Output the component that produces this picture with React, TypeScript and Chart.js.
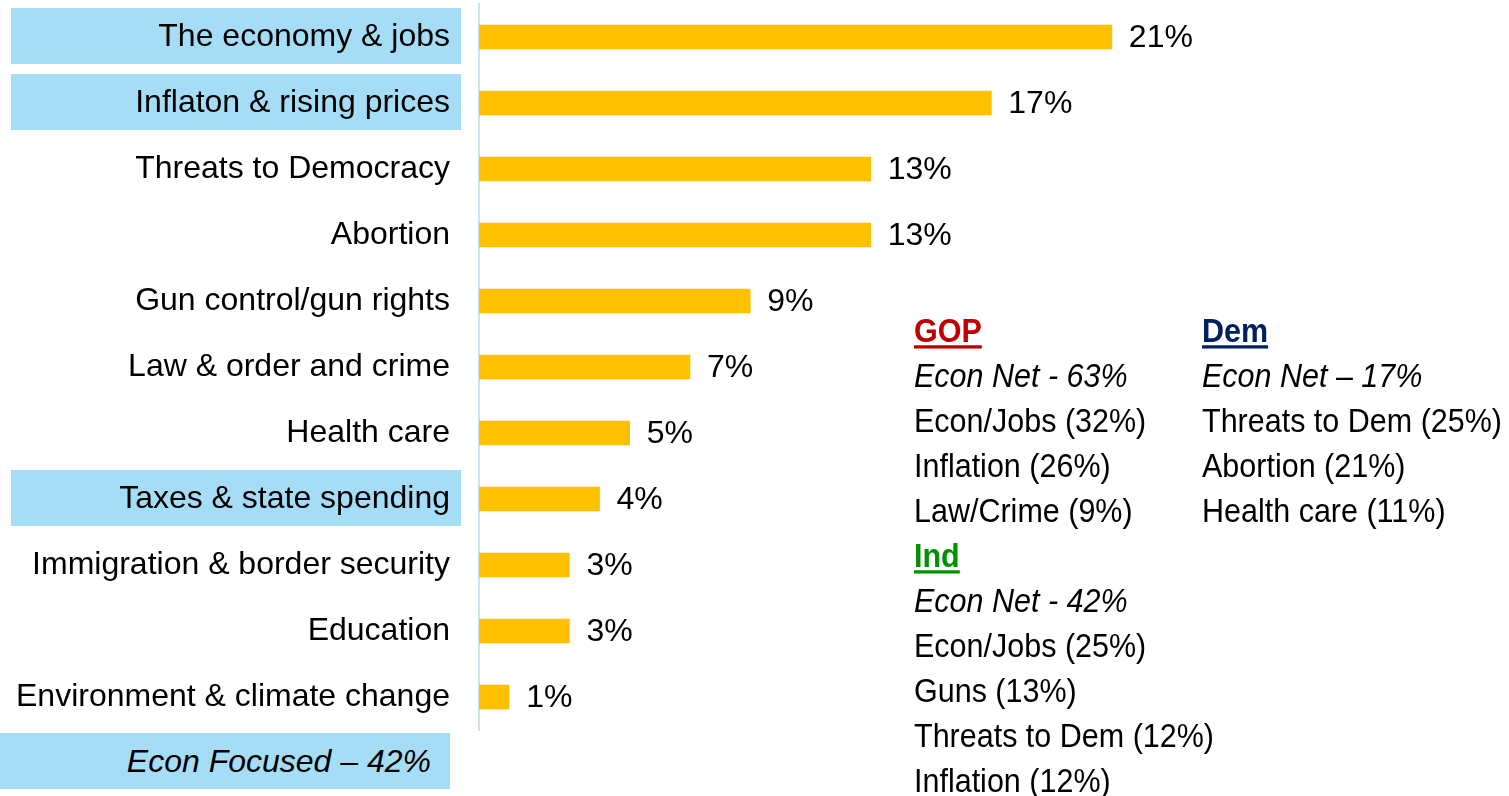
import React, { useEffect, useRef } from "react";
import { Chart, registerables } from "chart.js";

Chart.register(...registerables);

const categories = [
  "The economy & jobs",
  "Inflaton & rising prices",
  "Threats to Democracy",
  "Abortion",
  "Gun control/gun rights",
  "Law & order and crime",
  "Health care",
  "Taxes & state spending",
  "Immigration & border security",
  "Education",
  "Environment & climate change",
];
const values = [21, 17, 13, 13, 9, 7, 5, 4, 3, 3, 1];
const highlighted = [0, 1, 7];

const gopTitle = "GOP";
const gopNet = "Econ Net - 63%";
const gopLines = ["Econ/Jobs (32%)", "Inflation (26%)", "Law/Crime (9%)"];
const demTitle = "Dem";
const demNet = "Econ Net – 17%";
const demLines = ["Threats to Dem (25%)", "Abortion (21%)", "Health care (11%)"];
const indTitle = "Ind";
const indNet = "Econ Net - 42%";
const indLines = ["Econ/Jobs (25%)", "Guns (13%)", "Threats to Dem (12%)", "Inflation (12%)"];
const summaryText = "Econ Focused – 42%";

const FONT = "'Liberation Sans', Arial, sans-serif";
const BAR_COLOR = "#FFC000";
const BOX_COLOR = "#A5DDF6";

const highlightPlugin = {
  id: "highlightBoxes",
  beforeDraw(chart: any) {
    const { ctx, scales } = chart;
    const y = scales.y;
    ctx.save();
    ctx.fillStyle = BOX_COLOR;
    highlighted.forEach((i) => {
      const cy = y.getPixelForTick(i);
      ctx.fillRect(11, cy - 29, 450, 56);
    });
    ctx.restore();
  },
};

const valueLabelPlugin = {
  id: "valueLabels",
  afterDatasetsDraw(chart: any) {
    const { ctx } = chart;
    const meta = chart.getDatasetMeta(0);
    ctx.save();
    ctx.font = `32px ${FONT}`;
    ctx.fillStyle = "#000";
    ctx.textAlign = "left";
    ctx.textBaseline = "middle";
    meta.data.forEach((bar: any, i: number) => {
      ctx.fillText(values[i] + "%", bar.x + 17, bar.y + 1);
    });
    ctx.restore();
  },
};

const lineStyle: React.CSSProperties = {
  height: 45,
  lineHeight: "45px",
  whiteSpace: "nowrap",
};

const stretch: React.CSSProperties = {
  display: "inline-block",
  transform: "scaleY(1.09)",
  transformOrigin: "center 22px",
};

function Title({ text, color }: { text: string; color: string }) {
  return (
    <div style={lineStyle}>
      <span
        style={{
          ...stretch,
          color,
          fontWeight: "bold",
          textDecoration: "underline",
          textDecorationThickness: "3px",
          textUnderlineOffset: "3px",
        }}
      >
        {text}
      </span>
    </div>
  );
}

function Line({ text, italic }: { text: string; italic?: boolean }) {
  return (
    <div style={lineStyle}>
      <span style={{ ...stretch, fontStyle: italic ? "italic" : "normal" }}>{text}</span>
    </div>
  );
}

export default function App() {
  const canvasRef = useRef<HTMLCanvasElement | null>(null);

  useEffect(() => {
    document.body.style.margin = "0";
    const canvas = canvasRef.current;
    if (!canvas) return;
    const chart = new Chart(canvas, {
      type: "bar",
      data: {
        labels: categories,
        datasets: [
          {
            data: values,
            backgroundColor: BAR_COLOR,
            borderWidth: 0,
            barThickness: 24,
          },
        ],
      },
      options: {
        indexAxis: "y",
        responsive: false,
        animation: false,
        devicePixelRatio: 1,
        layout: { padding: { top: 4, bottom: 66, left: 0, right: 367 } },
        plugins: {
          legend: { display: false },
          tooltip: { enabled: false },
        },
        scales: {
          x: {
            display: false,
            min: 0,
            max: 22,
          },
          y: {
            afterFit: (scale: any) => {
              scale.width = 479;
              scale.paddingTop = 0;
              scale.paddingBottom = 0;
            },
            grid: { display: false, drawTicks: false },
            border: { display: true, color: "#C9E4F6", width: 2 },
            ticks: {
              padding: 29,
              color: "#000",
              font: { family: FONT, size: 32 },
              autoSkip: false,
            },
          },
        },
      },
      plugins: [highlightPlugin, valueLabelPlugin],
    } as any);
    return () => chart.destroy();
  }, []);

  return (
    <div
      style={{
        position: "relative",
        width: 1509,
        height: 796,
        overflow: "hidden",
        background: "#fff",
        fontFamily: FONT,
        color: "#000",
      }}
    >
      <canvas ref={canvasRef} width={1509} height={796} style={{ display: "block" }} />
      <div
        style={{
          position: "absolute",
          left: 0,
          top: 733,
          width: 450,
          height: 56,
          background: BOX_COLOR,
          fontSize: 32,
          fontStyle: "italic",
          textAlign: "right",
          lineHeight: "56px",
          paddingRight: 19,
          boxSizing: "border-box",
          whiteSpace: "nowrap",
        }}
      >
        {summaryText}
      </div>
      <div style={{ position: "absolute", left: 914, top: 308, fontSize: 30.5 }}>
        <Title text={gopTitle} color="#C00000" />
        <Line text={gopNet} italic />
        {gopLines.map((t) => (
          <Line key={t} text={t} />
        ))}
        <Title text={indTitle} color="#009000" />
        <Line text={indNet} italic />
        {indLines.map((t) => (
          <Line key={t} text={t} />
        ))}
      </div>
      <div style={{ position: "absolute", left: 1202, top: 308, fontSize: 30.5 }}>
        <Title text={demTitle} color="#002060" />
        <Line text={demNet} italic />
        {demLines.map((t) => (
          <Line key={t} text={t} />
        ))}
      </div>
    </div>
  );
}
